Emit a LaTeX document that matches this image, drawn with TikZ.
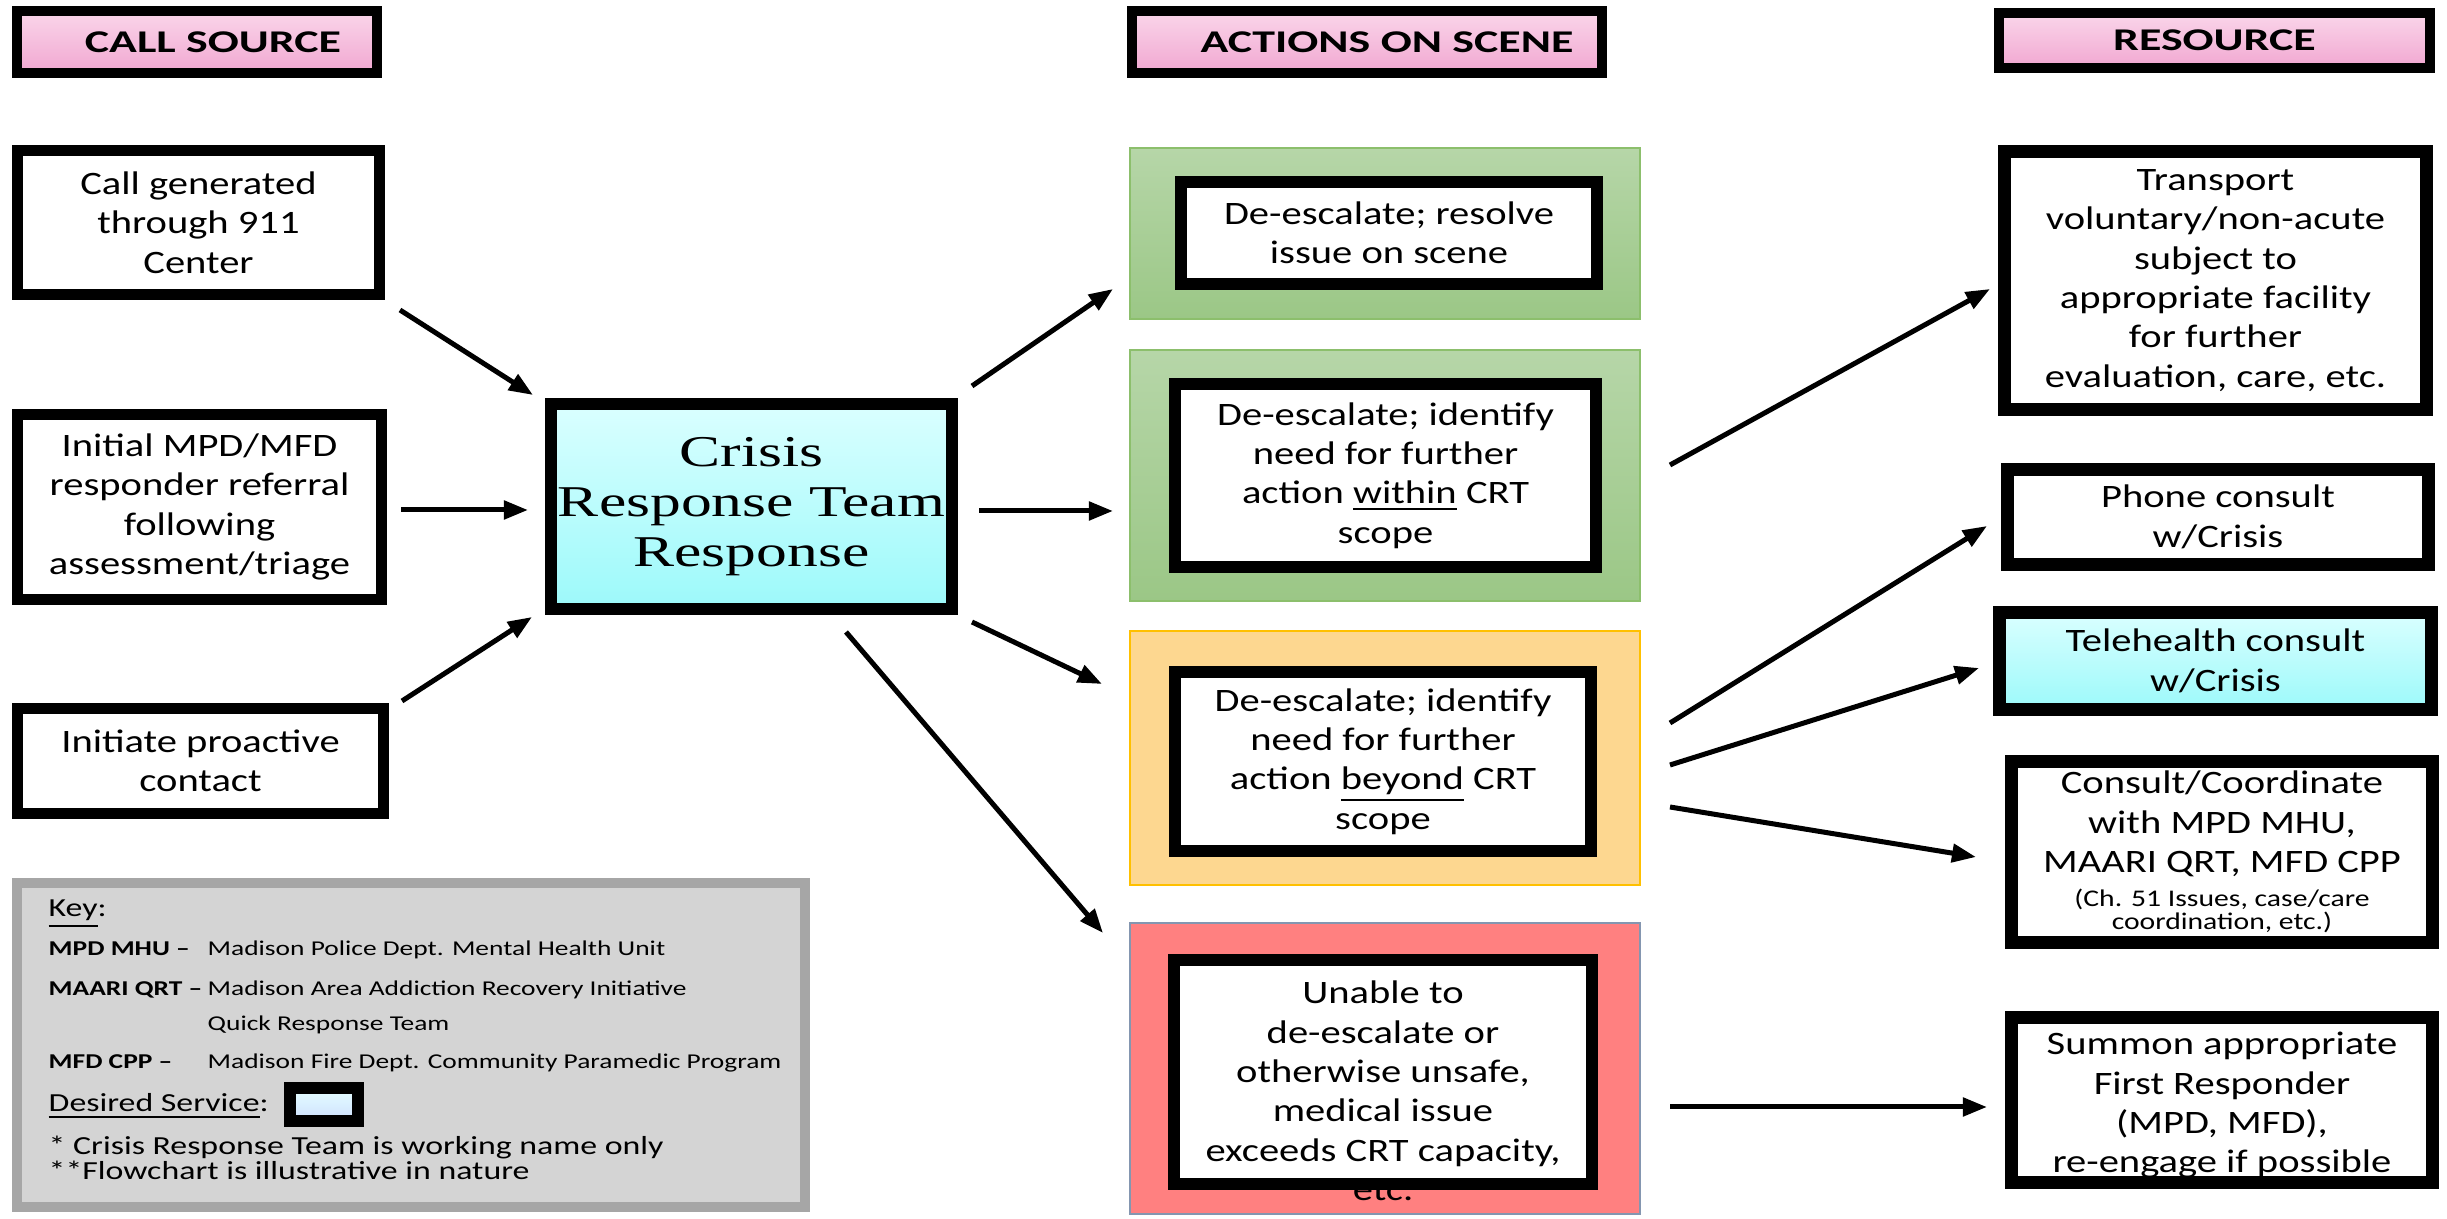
\documentclass[tikz,border=0pt]{standalone}
\usepackage{fontspec}
\setmainfont{Carlito}[FakeStretch=1.24]
\newfontfamily\hdfont{Carlito}[FakeStretch=1.45]
\newfontfamily\crtfont{Liberation Serif}[FakeStretch=1.4]
\newfontfamily\keyfont{Carlito}[FakeStretch=1.3]
\usetikzlibrary{arrows.meta}
\definecolor{pinkA}{HTML}{FAD6EA}
\definecolor{pinkB}{HTML}{F1A7D1}
\definecolor{cyanA}{HTML}{DAFFFF}
\definecolor{cyanB}{HTML}{9CF9FA}
\definecolor{greenA}{HTML}{B6D6A8}
\definecolor{greenB}{HTML}{9BC786}
\definecolor{greenE}{HTML}{8CBF6C}
\definecolor{orangeF}{HTML}{FDD790}
\definecolor{orangeE}{HTML}{FFC000}
\definecolor{redF}{HTML}{FF8080}
\definecolor{redE}{HTML}{8496B0}
\definecolor{keyF}{HTML}{D4D4D4}
\definecolor{keyE}{HTML}{A6A6A6}
\tikzset{
  bx/.style={draw=black, line width=0.11cm, fill=white, align=center, inner sep=0pt,
             font=\fontsize{9.3}{11.2}\selectfont},
  rbx/.style={bx, line width=0.13cm},
  ibx/.style={bx, line width=0.12cm},
  hd/.style={draw=black, line width=0.10cm, top color=pinkA, bottom color=pinkB,
             inner sep=0pt, font=\hdfont\bfseries\fontsize{9}{11}\selectfont},
  zone/.style={line width=0.7pt, inner sep=0pt},
  txt/.style={align=center, inner sep=0pt, font=\fontsize{9.3}{11.2}\selectfont},
  arr/.style={line width=0.05cm, -{Triangle[length=0.24cm,width=0.18cm]}},
  kb/.style={anchor=base west, inner sep=0pt, font=\keyfont\bfseries\fontsize{6}{7}\selectfont},
  kt/.style={anchor=base west, inner sep=0pt, font=\keyfont\fontsize{6}{7}\selectfont},
  kl/.style={anchor=base west, inner sep=0pt, font=\keyfont\fontsize{7.4}{9}\selectfont},
}
\newcommand{\smallline}{\fontsize{6.8}{11.2}\selectfont}
\begin{document}
\begin{tikzpicture}[x=0.01cm,y=-0.01cm]
\useasboundingbox (0,0) rectangle (2447,1219);
\fill[white] (0,0) rectangle (2447,1219);

% headers
\node[hd, minimum width=3.60cm, minimum height=0.62cm] (hcall) at (197,42) {\hspace{0.32cm}CALL SOURCE};
\node[hd, minimum width=4.70cm, minimum height=0.62cm] (hact) at (1367,42) {\hspace{0.40cm}ACTIONS ON SCENE};
\node[hd, minimum width=4.31cm, minimum height=0.55cm] (hres) at (2214.5,40.5) {RESOURCE};

% call sources
\node[bx, minimum width=3.62cm, minimum height=1.44cm] (c1) at (198.5,222.5) {Call generated\\through 911\\Center};
\node[bx, minimum width=3.64cm, minimum height=1.85cm] (c2) at (199.5,507) {Initial MPD/MFD\\responder referral\\following\\assessment/triage};
\node[bx, minimum width=3.66cm, minimum height=1.05cm] (c3) at (200.5,761) {Initiate proactive\\contact};

% CRT
\node[draw=black, line width=0.12cm, top color=cyanA, bottom color=cyanB, inner sep=0pt,
      minimum width=4.01cm, minimum height=2.05cm, align=center,
      font=\crtfont\fontsize{12.5}{14.3}\selectfont] (crt) at (751.5,506.5) {Crisis\\Response Team\\Response};

% action zones
\node[zone, draw=greenE, top color=greenA, bottom color=greenB, minimum width=5.10cm, minimum height=1.71cm] (g1) at (1385,233.5) {};
\node[zone, draw=greenE, top color=greenA, bottom color=greenB, minimum width=5.10cm, minimum height=2.51cm] (g2) at (1385,475.5) {};
\node[zone, draw=orangeE, fill=orangeF, minimum width=5.10cm, minimum height=2.54cm] (o1) at (1385,758) {};
\node[zone, draw=redE, fill=redF, minimum width=5.10cm, minimum height=2.91cm] (r1) at (1385,1068.5) {};

\node[ibx, minimum width=4.16cm, minimum height=1.02cm] (g1i) at (1389,233) {De-escalate; resolve\\issue on scene};
\node[ibx, minimum width=4.21cm, minimum height=1.83cm] (g2i) at (1385.5,475.5) {De-escalate; identify\\need for further\\action \underline{within} CRT\\scope};
\node[ibx, minimum width=4.16cm, minimum height=1.79cm] (o1i) at (1383,761.5) {De-escalate; identify\\need for further\\action \underline{beyond} CRT\\scope};
\node[fill=white, inner sep=0pt, minimum width=4.16cm, minimum height=2.22cm] (r1i) at (1383,1072) {};
\node[txt] (r1t) at (1383,1091) {Unable to\\de-escalate or\\otherwise unsafe,\\medical issue\\exceeds CRT capacity,\\etc.};
\draw[line width=0.12cm] (r1i.north west) rectangle (r1i.south east);

% resources
\node[rbx, minimum width=4.22cm, minimum height=2.58cm] (t1) at (2215.5,280.5) {Transport\\voluntary/non-acute\\subject to\\appropriate facility\\for further\\evaluation, care, etc.};
\node[rbx, minimum width=4.21cm, minimum height=0.95cm] (p1) at (2218,517) {Phone consult\\w/Crisis};
\node[rbx, top color=cyanA, bottom color=cyanB, minimum width=4.32cm, minimum height=0.97cm] (th) at (2215.5,661) {Telehealth consult\\w/Crisis};
\node[rbx, minimum width=4.21cm, minimum height=1.81cm] (cc) at (2222,852) {Consult/Coordinate\\with MPD MHU,\\MAARI QRT, MFD CPP\\[-1.5pt]\smallline (Ch. 51 Issues, case/care\\[-4.7pt]\smallline coordination, etc.)};
\node[rbx, minimum width=4.21cm, minimum height=1.65cm] (sm) at (2222,1100) {\rule{0pt}{9.5pt}Summon appropriate\\First Responder\\(MPD, MFD),\\re-engage if possible};

% key
\node[draw=keyE, fill=keyF, line width=0.10cm, inner sep=0pt, minimum width=7.88cm, minimum height=3.24cm] (key) at (411,1045) {};
\node[kl] (kk) at (48,917) {\underline{Key}:};
\node[kb] (k1) at (48,956) {MPD MHU –};
\node[kt] (k1d) at (207,956) {Madison Police Dept. Mental Health Unit};
\node[kb] (k2) at (48,996) {MAARI QRT –};
\node[kt] (k2d) at (207,996) {Madison Area Addiction Recovery Initiative};
\node[kt] (k2e) at (207,1031) {Quick Response Team};
\node[kb] (k3) at (48,1069) {MFD CPP –};
\node[kt] (k3d) at (207,1069) {Madison Fire Dept. Community Paramedic Program};
\node[kl] (kds) at (48,1112) {\underline{Desired Service}:};
\node[draw=black, line width=0.12cm, top color=cyanA!70!white, bottom color=cyanB!60!blue!30!white, inner sep=0pt, minimum width=0.68cm, minimum height=0.33cm] (ksw) at (324,1104.5) {};
\node[kl] (kn1) at (48,1155) {* Crisis Response Team is working name only};
\node[kl] (kn2) at (48,1180) {**Flowchart is illustrative in nature};

% arrows
\coordinate (a1s) at (400,310);  \coordinate (a1e) at (533,395);
\coordinate (a2s) at (401,510);  \coordinate (a2e) at (528,510);
\coordinate (a3s) at (402,701);  \coordinate (a3e) at (532,617);
\coordinate (a4s) at (972,386);  \coordinate (a4e) at (1113,289);
\coordinate (a5s) at (979,511);  \coordinate (a5e) at (1113,511);
\coordinate (a6s) at (972,622);  \coordinate (a6e) at (1102,684);
\coordinate (a7s) at (846,632);  \coordinate (a7e) at (1103,933);
\coordinate (a8s) at (1670,465); \coordinate (a8e) at (1990,289);
\coordinate (a9s) at (1670,723); \coordinate (a9e) at (1987,526);
\coordinate (a10s) at (1670,765); \coordinate (a10e) at (1979,668);
\coordinate (a11s) at (1670,807); \coordinate (a11e) at (1976,857);
\coordinate (a12s) at (1670,1107); \coordinate (a12e) at (1987,1107);
\foreach \i in {1,...,12} {\draw[arr] (a\i s) -- (a\i e);}
\end{tikzpicture}
\end{document}
